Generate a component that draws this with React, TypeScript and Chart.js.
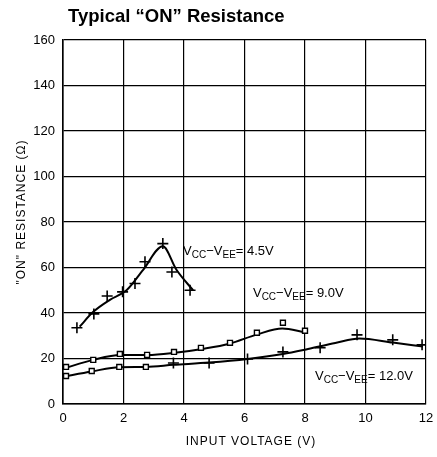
import React, { useEffect, useRef } from "react";
import { Chart, registerables } from "chart.js";

Chart.register(...registerables);

const xTicks = [0, 2, 4, 6, 8, 10, 12];
const yTicks = [0, 20, 40, 60, 80, 100, 120, 140, 160];

const line45X = [0.55, 1.0, 1.55, 2.1, 2.65, 3.3, 3.75, 4.3];
const line45Y = [34, 40.5, 45.8, 50, 59, 69.3, 59, 50];
const marks45X = [0.46, 1.02, 1.46, 1.97, 2.38, 2.71, 3.3, 3.6, 4.2];
const marks45Y = [33.5, 39.6, 47.5, 49.3, 53, 62.5, 70.5, 58, 50];

const line90X = [0, 1.0, 1.9, 2.8, 3.7, 4.6, 5.5, 6.4, 7.25, 8.0];
const line90Y = [15.5, 19.4, 21.5, 21.5, 22.5, 24.2, 26.5, 30.5, 33.2, 31.5];
const marks90X = [0.1, 1.0, 1.88, 2.78, 3.67, 4.56, 5.52, 6.41, 7.27, 8.0];
const marks90Y = [16.3, 19.4, 22, 21.6, 22.9, 24.7, 26.9, 31.3, 35.7, 32.2];

const line120X = [0, 0.95, 1.86, 2.74, 3.65, 4.83, 6.1, 7.27, 8.1, 9.0, 9.8, 10.9, 11.9];
const line120Y = [12, 14.3, 16.2, 16.3, 17.2, 18.2, 19.8, 22, 24.2, 26.8, 28.8, 27, 25.3];
const marks120SqX = [0.1, 0.95, 1.86, 2.74];
const marks120SqY = [12.3, 14.5, 16.3, 16.3];
const marks120PlusX = [3.65, 4.83, 6.1, 7.27, 8.5, 9.72, 10.9, 11.87];
const marks120PlusY = [18, 18, 19.8, 22.9, 24.7, 30.4, 28.2, 26];

const labels = [
  { x: 3.97, y: 65.6, value: "4.5V" },
  { x: 6.28, y: 47.1, value: "9.0V" },
  { x: 8.33, y: 10.6, value: "12.0V" },
];

const titleText = "Typical \u201cON\u201d Resistance";
const xTitle = "INPUT VOLTAGE (V)";
const yTitle = "\"ON\" RESISTANCE (\u03a9)";

const pts = (xs: number[], ys: number[]) => xs.map((x, i) => ({ x, y: ys[i] }));

const FONT = "'Liberation Sans', Arial, sans-serif";

const textPlugin = {
  id: "textPlugin",
  afterDraw(chart: any) {
    const ctx = chart.ctx;
    const xs = chart.scales.x;
    const ys = chart.scales.y;
    const ca = chart.chartArea;
    ctx.save();
    ctx.fillStyle = "#000";
    ctx.font = `bold 18.5px ${FONT}`;
    ctx.textAlign = "left";
    ctx.textBaseline = "alphabetic";
    ctx.fillText(titleText, 68, 22);
    ctx.font = `12px ${FONT}`;
    ctx.textAlign = "center";
    (ctx as any).letterSpacing = "1px";
    ctx.fillText(xTitle, 251, 445);
    ctx.save();
    ctx.translate(25, 212);
    ctx.rotate(-Math.PI / 2);
    ctx.fillText(yTitle, 0, 0);
    ctx.restore();
    (ctx as any).letterSpacing = "0px";
    ctx.textAlign = "left";
    for (const l of labels) {
      let px = xs.getPixelForValue(l.x);
      const py = ys.getPixelForValue(l.y);
      const part = (t: string, size: number, dy: number) => {
        ctx.font = `${size}px ${FONT}`;
        ctx.fillText(t, px, py + dy);
        px += ctx.measureText(t).width;
      };
      part("V", 13, 0);
      part("CC", 10, 3);
      part("\u2212", 13, 0);
      part("V", 13, 0);
      part("EE", 10, 3);
      part("= " + l.value, 13, 0);
    }
    ctx.restore();
  },
};

export default function App() {
  const ref = useRef<HTMLCanvasElement>(null);
  useEffect(() => {
    document.body.style.margin = "0";
    const canvas = ref.current!;
    const lineDs = (xs: number[], ys: number[]) => ({
      data: pts(xs, ys),
      showLine: true,
      borderColor: "#000",
      borderWidth: 2,
      pointRadius: 0,
      cubicInterpolationMode: "monotone" as const,
      order: 2,
    });
    const crossDs = (xs: number[], ys: number[]) => ({
      data: pts(xs, ys),
      showLine: false,
      pointStyle: "cross" as const,
      pointRadius: 5.5,
      pointBorderWidth: 1.6,
      pointBorderColor: "#000",
      borderColor: "#000",
      order: 0,
    });
    const rectDs = (xs: number[], ys: number[]) => ({
      data: pts(xs, ys),
      showLine: false,
      pointStyle: "rect" as const,
      pointRadius: 3.5,
      pointBorderWidth: 1.4,
      pointBorderColor: "#000",
      pointBackgroundColor: "#fff",
      borderColor: "#000",
      order: 0,
    });
    const chart = new Chart(canvas, {
      type: "scatter",
      data: {
        datasets: [
          lineDs(line45X, line45Y),
          crossDs(marks45X, marks45Y),
          lineDs(line90X, line90Y),
          rectDs(marks90X, marks90Y),
          lineDs(line120X, line120Y),
          rectDs(marks120SqX, marks120SqY),
          crossDs(marks120PlusX, marks120PlusY),
        ] as any,
      },
      options: {
        responsive: false,
        animation: false,
        layout: { padding: { top: 40, right: 11, bottom: 0, left: 0 } },
        plugins: { legend: { display: false }, tooltip: { enabled: false }, title: { display: false } },
        scales: {
          x: {
            type: "linear",
            min: 0,
            max: 12,
            afterBuildTicks: (s: any) => {
              s.ticks = xTicks.map((v) => ({ value: v }));
            },
            afterFit: (s: any) => {
              s.height = 53;
              s.paddingRight = 0;
              s.paddingLeft = 0;
            },
            grid: { color: "#000", lineWidth: 1.2, drawTicks: false },
            border: { color: "#000", width: 1.6 },
            ticks: { color: "#000", font: { family: FONT, size: 13 }, padding: 7, maxRotation: 0 },
          },
          y: {
            type: "linear",
            min: 0,
            max: 160,
            afterBuildTicks: (s: any) => {
              s.ticks = yTicks.map((v) => ({ value: v }));
            },
            afterFit: (s: any) => {
              s.width = 63;
            },
            grid: { color: "#000", lineWidth: 1.2, drawTicks: false },
            border: { color: "#000", width: 1.6 },
            ticks: { color: "#000", font: { family: FONT, size: 13 }, padding: 8 },
          },
        },
      },
      plugins: [textPlugin],
    });
    return () => chart.destroy();
  }, []);
  return <canvas ref={ref} width={437} height={457} style={{ display: "block" }} />;
}
